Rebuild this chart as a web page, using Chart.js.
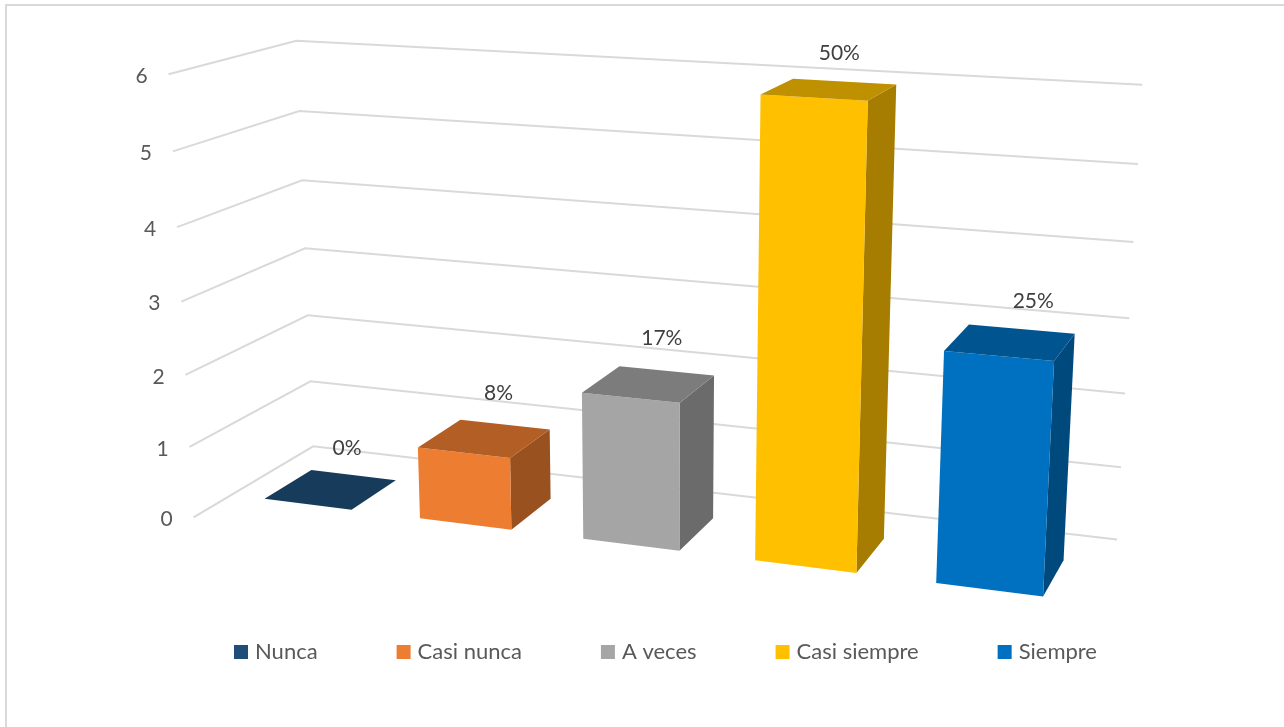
<!DOCTYPE html>
<html>
<head>
<meta charset="utf-8">
<script src="https://cdn.jsdelivr.net/npm/chart.js@4"></script>
<style>body{margin:0;background:#fff}canvas{display:block}</style>
</head>
<body>
<canvas id="barChart" width="1284" height="727"></canvas>
<script>
const categories = ['Nunca', 'Casi nunca', 'A veces', 'Casi siempre', 'Siempre'];
const counts = [0, 1, 2, 6, 3];
const percentLabels = ['0%', '8%', '17%', '50%', '25%'];
const barColors = ['#1F4E79', '#ED7D31', '#A5A5A5', '#FFC000', '#0070C0'];

// offset of each percent label from the centre of its bar's top face
const labelOffsets = [[16, -41], [14, -45], [13, -46], [10, -36], [23, -41]];

// perspective camera: (u, v, w) in 0..1 across, up and into the plot -> page pixels / 1000
const camera = [
  0.743523, -0.033596, 0.150125, 0.193529,
  0.035540, -0.446986, -0.027787, 0.517464,
  -0.123930, -0.050931, 0.097246
];
const barGap = 0.217;
const barFront = 0.3, barBack = 0.7;

function project(u, v, w) {
  const m = camera;
  const d = m[8] * u + m[9] * v + m[10] * w + 1;
  return [
    1000 * (m[0] * u + m[1] * v + m[2] * w + m[3]) / d,
    1000 * (m[4] * u + m[5] * v + m[6] * w + m[7]) / d
  ];
}

function shade(hex, k) {
  const n = parseInt(hex.slice(1), 16);
  return `rgb(${(n >> 16 & 255) * k},${(n >> 8 & 255) * k},${(n & 255) * k})`;
}

function fillFace(ctx, pts, color) {
  ctx.beginPath();
  pts.forEach((p, i) => i ? ctx.lineTo(p[0], p[1]) : ctx.moveTo(p[0], p[1]));
  ctx.closePath();
  ctx.fillStyle = color;
  ctx.fill();
}

// draws the grid, axis numbers and boxes in perspective from the chart's own scales
const perspective = {
  id: 'perspective',
  beforeDatasetsDraw(chart) {
    const { ctx, chartArea: a, scales: { y } } = chart;
    const U = px => (px - a.left) / a.width;
    const V = py => (a.bottom - py) / a.height;
    const bars = chart.getDatasetMeta(0).data;

    ctx.save();
    ctx.fillStyle = '#d9d9d9';
    ctx.fillRect(5, 4, 1279, 2);
    ctx.fillRect(5, 4, 2, 723);

    ctx.font = '21px Lato';
    ctx.textAlign = 'center';
    ctx.textBaseline = 'middle';
    y.ticks.forEach(t => {
      const v = V(y.getPixelForValue(t.value));
      const front = project(0, v, 0);
      ctx.beginPath();
      ctx.moveTo(...front);
      ctx.lineTo(...project(0, v, 1));
      ctx.lineTo(...project(1, v, 1));
      ctx.strokeStyle = '#d9d9d9';
      ctx.lineWidth = 2;
      ctx.stroke();
      ctx.fillStyle = '#595959';
      ctx.fillText(String(t.value), front[0] - 27, front[1] + 2);
    });

    bars.forEach((bar, i) => {
      const left = U(bar.x - bar.width / 2), right = U(bar.x + bar.width / 2);
      const top = V(bar.y), base = V(bar.base);
      const color = barColors[i];
      if (counts[i] > 0) {
        fillFace(ctx, [project(right, base, barFront), project(right, base, barBack),
          project(right, top, barBack), project(right, top, barFront)], shade(color, 0.65));
        fillFace(ctx, [project(left, base, barFront), project(right, base, barFront),
          project(right, top, barFront), project(left, top, barFront)], color);
      }
      fillFace(ctx, [project(left, top, barFront), project(right, top, barFront),
        project(right, top, barBack), project(left, top, barBack)], shade(color, 0.75));
    });

    ctx.fillStyle = '#404040';
    bars.forEach((bar, i) => {
      const p = project(U(bar.x), V(bar.y), 0.5);
      ctx.fillText(percentLabels[i], p[0] + labelOffsets[i][0], p[1] + labelOffsets[i][1]);
    });
    ctx.restore();
    return false; // skip the flat bars
  }
};

new Chart(document.getElementById('barChart'), {
  type: 'bar',
  data: {
    labels: categories,
    datasets: [{ data: counts, backgroundColor: barColors, barPercentage: 1 - 2 * barGap, categoryPercentage: 1 }]
  },
  options: {
    responsive: false,
    animation: false,
    layout: { padding: { left: 51, bottom: 54 } },
    scales: {
      x: { display: false },
      y: { display: false, min: 0, max: 6, ticks: { stepSize: 1 } }
    },
    plugins: {
      tooltip: { enabled: false },
      legend: {
        position: 'bottom',
        labels: {
          font: { family: 'Lato', size: 22 },
          color: '#595959',
          usePointStyle: true,
          boxWidth: 6,
          boxHeight: 14,
          padding: 83,
          generateLabels: () => categories.map((text, i) => ({
            text, fillStyle: barColors[i], strokeStyle: barColors[i], lineWidth: 0, pointStyle: 'rect', index: i, fontColor: '#595959'
          }))
        }
      }
    }
  },
  plugins: [perspective]
});
</script>
</body>
</html>
